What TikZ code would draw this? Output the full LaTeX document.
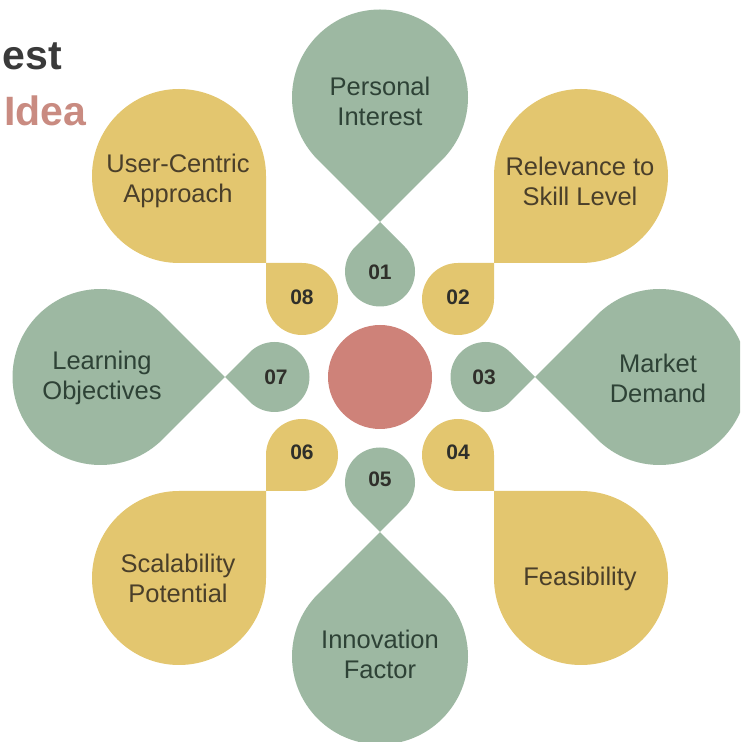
\documentclass[tikz,border=0pt]{standalone}
\usepackage{fontspec}
\setmainfont{Liberation Sans}
\definecolor{sage}{HTML}{9DB8A2}
\definecolor{mustard}{HTML}{E3C66F}
\definecolor{salmon}{HTML}{CE8279}
\definecolor{titlegray}{HTML}{3A3A3A}
\definecolor{idearose}{HTML}{C98B81}
\definecolor{greentext}{HTML}{2E4236}
\definecolor{yellowtext}{HTML}{4A3F2A}
\definecolor{numtext}{HTML}{2F2F2A}
\newcommand\petal[5]{\fill[#5,shift={(#1,#2)},rotate=#4] (-45:#3) -- (0:{#3*1.41421}) -- (45:#3) arc[start angle=45,end angle=315,radius=#3] -- cycle;}
\tikzset{
  glabel/.style={align=center,text=greentext,font=\fontsize{25.5}{30}\selectfont},
  ylabel/.style={align=center,text=yellowtext,font=\fontsize{25.5}{30}\selectfont},
  numlabel/.style={text=numtext,font=\bfseries\fontsize{21}{21}\selectfont},
  titletext/.style={anchor=base west,font=\bfseries\fontsize{41}{41}\selectfont}
}
\begin{document}
\begin{tikzpicture}[x=1pt,y=1pt]
\useasboundingbox (0,0) rectangle (740,742);
\clip (0,0) rectangle (740,742);
% green petals
\petal{380}{644.5}{88}{270}{sage}
\petal{380}{470.5}{35}{90}{sage}
\petal{659.5}{365}{88}{180}{sage}
\petal{485.5}{365}{35}{0}{sage}
\petal{100.5}{365}{88}{0}{sage}
\petal{274.5}{365}{35}{180}{sage}
\petal{380}{85.5}{88}{90}{sage}
\petal{380}{259.5}{35}{270}{sage}
% yellow petals
\petal{179}{566}{87}{315}{mustard}
\petal{302}{443}{36}{135}{mustard}
\petal{581}{566}{87}{225}{mustard}
\petal{458}{443}{36}{45}{mustard}
\petal{179}{164}{87}{45}{mustard}
\petal{302}{287}{36}{225}{mustard}
\petal{581}{164}{87}{135}{mustard}
\petal{458}{287}{36}{315}{mustard}
% center
\fill[salmon] (380,365) circle[radius=52];
\node (hub) at (380,365) {};
% labels
\node[glabel] (pi) at (380,641) {Personal\\Interest};
\node[glabel] (md) at (658,364) {Market\\Demand};
\node[glabel] (lo) at (102,364) {Learning\\Objectives};
\node[glabel] (if) at (380,88) {Innovation\\Factor};
\node[ylabel] (uc) at (178,561) {User-Centric\\Approach};
\node[ylabel] (rs) at (580,561) {Relevance to\\Skill Level};
\node[ylabel] (sp) at (178,164) {Scalability\\Potential};
\node[ylabel] (fe) at (580,163) {Feasibility};
% numbers
\node[numlabel] (n1) at (380,470) {01};
\node[numlabel] (n2) at (458,445) {02};
\node[numlabel] (n3) at (484,365) {03};
\node[numlabel] (n4) at (458,290) {04};
\node[numlabel] (n5) at (380,263) {05};
\node[numlabel] (n6) at (302,290) {06};
\node[numlabel] (n7) at (276,365) {07};
\node[numlabel] (n8) at (302,445) {08};
% title fragments
\node[titletext,text=titlegray] (t1) at (-1,672) {est};
\node[titletext,text=idearose] (t2) at (1,616) {Idea};
\end{tikzpicture}
\end{document}
